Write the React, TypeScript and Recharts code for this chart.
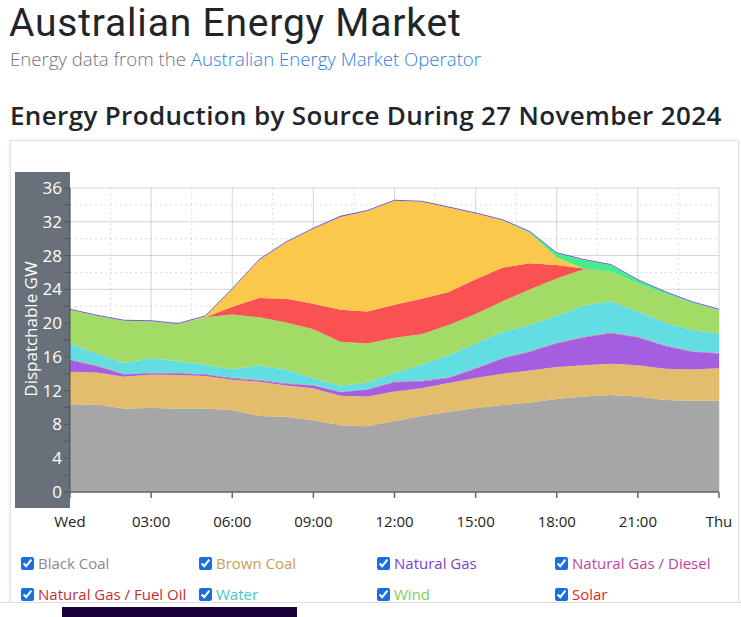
import { AreaChart, Area, XAxis, YAxis, CartesianGrid } from 'recharts'

const hours = [0, 1, 2, 3, 4, 5, 6, 7, 8, 9, 10, 11, 12, 13, 14, 15, 16, 17, 18, 19, 20, 21, 22, 23, 24]
const xTicks = [0, 3, 6, 9, 12, 15, 18, 21, 24]
const xTickLabels = ['Wed', '03:00', '06:00', '09:00', '12:00', '15:00', '18:00', '21:00', 'Thu']
const yTicks = [0, 2, 4, 6, 8, 10, 12, 14, 16, 18, 20, 22, 24, 26, 28, 30, 32, 34, 36]
const xMinor = [1.5, 4.5, 7.5, 10.5, 13.5, 16.5, 19.5, 22.5]
const yMinor = [2, 6, 10, 14, 18, 22, 26, 30, 34]
const yMajor = [0, 4, 8, 12, 16, 20, 24, 28, 32, 36]

// GW, hourly from Wed 00:00 to Thu 00:00
const blackCoal = [10.4, 10.35, 9.9, 9.95, 9.9, 9.9, 9.7, 9.0, 8.9, 8.5, 7.9, 7.8, 8.4, 9.0, 9.5, 9.95, 10.3, 10.6, 11.0, 11.3, 11.5, 11.3, 10.9, 10.8, 10.8]
const brownCoal = [3.85, 3.8, 3.75, 3.95, 3.95, 3.85, 3.6, 4.05, 3.7, 3.8, 3.5, 3.5, 3.5, 3.3, 3.4, 3.55, 3.7, 3.8, 3.8, 3.7, 3.7, 3.7, 3.7, 3.7, 3.85]
const naturalGas = [1.35, 0.75, 0.25, 0.15, 0.15, 0.15, 0.15, 0.15, 0.2, 0.3, 0.4, 0.8, 1.1, 0.8, 0.6, 1.1, 1.8, 2.2, 2.8, 3.3, 3.6, 3.3, 2.7, 2.1, 1.75]
const gasDiesel = [0.05, 0.05, 0.05, 0.05, 0.05, 0.05, 0.05, 0.05, 0.05, 0.05, 0.05, 0.05, 0.05, 0.05, 0.05, 0.05, 0.05, 0.05, 0.05, 0.05, 0.05, 0.05, 0.05, 0.05, 0.05]
const gasFuelOil = [0.03, 0.03, 0.03, 0.03, 0.03, 0.03, 0.03, 0.03, 0.03, 0.03, 0.03, 0.03, 0.03, 0.03, 0.03, 0.03, 0.03, 0.03, 0.03, 0.03, 0.03, 0.03, 0.03, 0.03, 0.03]
const water = [1.9, 1.4, 1.3, 1.7, 1.4, 1.1, 1.0, 1.7, 1.6, 0.8, 0.7, 0.8, 1.0, 1.9, 2.6, 2.9, 3.1, 3.1, 3.2, 3.7, 3.7, 3.0, 2.7, 2.5, 2.3]
const wind = [4.0, 4.5, 5.0, 4.4, 4.4, 5.6, 6.5, 5.7, 5.6, 5.8, 5.2, 4.6, 4.2, 3.6, 3.6, 3.5, 3.6, 4.2, 4.4, 4.3, 3.5, 3.3, 3.4, 3.2, 2.8]
const solar = [0, 0, 0, 0, 0, 0, 0.9, 2.3, 2.8, 3.0, 3.8, 3.8, 3.9, 4.2, 3.9, 4.1, 4.0, 3.1, 1.6, 0.1, 0, 0, 0, 0, 0]
const rooftopSolar = [0, 0, 0, 0, 0, 0.1, 2.1, 4.5, 6.7, 8.9, 11.0, 11.9, 12.3, 11.5, 10.0, 7.8, 5.6, 3.6, 0.9, 0, 0, 0, 0, 0, 0]
const battery = [0, 0, 0, 0, 0, 0, 0, 0, 0, 0, 0, 0, 0, 0, 0, 0, 0, 0.1, 0.5, 1.0, 0.8, 0.4, 0.2, 0.1, 0]
const bioenergy = [0.12, 0.12, 0.12, 0.12, 0.12, 0.12, 0.12, 0.12, 0.12, 0.12, 0.12, 0.12, 0.12, 0.12, 0.12, 0.12, 0.12, 0.12, 0.12, 0.12, 0.12, 0.12, 0.12, 0.12, 0.12]

// first eight appear in the visible legend rows
const series = [
  { key: 'blackCoal', name: 'Black Coal', values: blackCoal, fill: '#a6a6a6', text: '#8a8a8a' },
  { key: 'brownCoal', name: 'Brown Coal', values: brownCoal, fill: '#e3bd6b', text: '#c9a04f' },
  { key: 'naturalGas', name: 'Natural Gas', values: naturalGas, fill: '#a35fe0', text: '#7b3fc6' },
  { key: 'gasDiesel', name: 'Natural Gas / Diesel', values: gasDiesel, fill: '#c850b0', text: '#c0439e' },
  { key: 'gasFuelOil', name: 'Natural Gas / Fuel Oil', values: gasFuelOil, fill: '#d04040', text: '#c0302f' },
  { key: 'water', name: 'Water', values: water, fill: '#62dde2', text: '#45c7c9' },
  { key: 'wind', name: 'Wind', values: wind, fill: '#a2dc66', text: '#85cc55' },
  { key: 'solar', name: 'Solar', values: solar, fill: '#fa5252', text: '#e01f1f' },
  { key: 'rooftopSolar', name: 'Rooftop Solar', values: rooftopSolar, fill: '#fac84a', text: '#e0a820' },
  { key: 'battery', name: 'Battery', values: battery, fill: '#44ee88', text: '#2cc86a' },
  { key: 'bioenergy', name: 'Bioenergy', values: bioenergy, fill: '#7058d8', text: '#5a44c0' },
]

const data = hours.map((h, i) => {
  const row: Record<string, number> = { hour: h }
  series.forEach((s) => (row[s.key] = s.values[i]))
  return row
})

const font = '"Open Sans", "Noto Sans", sans-serif'

export default function App() {
  return (
    <div style={{ position: 'relative', width: 741, height: 617, overflow: 'hidden', fontFamily: font, background: '#fff' }}>
      <style>{'body{margin:0;overflow:hidden}'}</style>
      <div style={{ position: 'absolute', left: 9, top: 0, fontFamily: 'Roboto, "Open Sans", sans-serif', fontSize: 39, fontWeight: 400, color: '#212529', letterSpacing: 0.8, whiteSpace: 'nowrap' }}>
        Australian Energy Market
      </div>
      <div style={{ position: 'absolute', left: 10, top: 46, fontSize: 18.6, fontWeight: 300, color: '#6c757d', whiteSpace: 'nowrap' }}>
        Energy data from the <span style={{ color: '#2f7ee0' }}>Australian Energy Market Operator</span>
      </div>
      <div style={{ position: 'absolute', left: 10, top: 97, fontSize: 26, fontWeight: 600, color: '#212529', whiteSpace: 'nowrap', letterSpacing: 0.35 }}>
        Energy Production by Source During 27 November 2024
      </div>
      <div style={{ position: 'absolute', left: 10, top: 140, width: 727, height: 520, border: '1px solid #e3e3e3', boxShadow: '0 1px 4px rgba(0,0,0,0.12)', background: '#fff' }} />
      <div style={{ position: 'absolute', left: 15, top: 172, width: 55, height: 336, background: '#687079' }} />
      <div style={{ position: 'absolute', left: 30, top: 329, transform: 'translate(-50%, -50%) rotate(-90deg)', color: '#fff', fontSize: 17, whiteSpace: 'nowrap' }}>
        Dispatchable GW
      </div>
      <div style={{ position: 'absolute', left: 0, top: 160 }}>
        <AreaChart width={741} height={380} data={data} margin={{ top: 28, right: 22, bottom: 8, left: 15 }}>
          <XAxis
            dataKey="hour"
            type="number"
            domain={[0, 24]}
            ticks={xTicks}
            tickFormatter={(v: number) => xTickLabels[xTicks.indexOf(v)] ?? ''}
            height={40}
            stroke="#666"
            strokeWidth={1.5}
            tickMargin={18}
            tick={{ fill: '#222', fontSize: 15 }}
          />
          <YAxis
            type="number"
            domain={[0, 36]}
            ticks={yTicks}
            interval={0}
            tickFormatter={(v: number) => (v % 4 === 0 ? String(v) : '')}
            width={55}
            stroke="#555"
            tick={{ fill: '#fff', fontSize: 17 }}
          />
          {series.map((s) => (
            <Area
              key={s.key}
              dataKey={s.key}
              name={s.name}
              stackId="1"
              type="linear"
              stroke="none"
              fill={s.fill}
              fillOpacity={1}
              isAnimationActive={false}
            />
          ))}
          <CartesianGrid horizontalValues={yMinor} verticalValues={xMinor} stroke="rgba(0,0,0,0.14)" strokeDasharray="2 3" />
          <CartesianGrid horizontalValues={yMajor} verticalValues={xTicks} stroke="rgba(0,0,0,0.16)" />
        </AreaChart>
      </div>
      {series.slice(0, 8).map((s, i) => (
        <label
          key={s.key}
          style={{
            position: 'absolute',
            left: 21 + (i % 4) * 178,
            top: 553 + Math.floor(i / 4) * 31,
            display: 'flex',
            alignItems: 'center',
            fontSize: 15,
            color: s.text,
            whiteSpace: 'nowrap',
          }}
        >
          <input type="checkbox" checked readOnly style={{ margin: '0 4px 0 0', width: 13, height: 13, accentColor: '#1a6fe0' }} />
          {s.name}
        </label>
      ))}
      <div style={{ position: 'absolute', left: 0, top: 602, width: 741, height: 15, background: '#fff', borderTop: '1px solid #ddd' }} />
      <div style={{ position: 'absolute', left: 62, top: 607, width: 235, height: 10, background: '#1a0038' }} />
    </div>
  )
}
